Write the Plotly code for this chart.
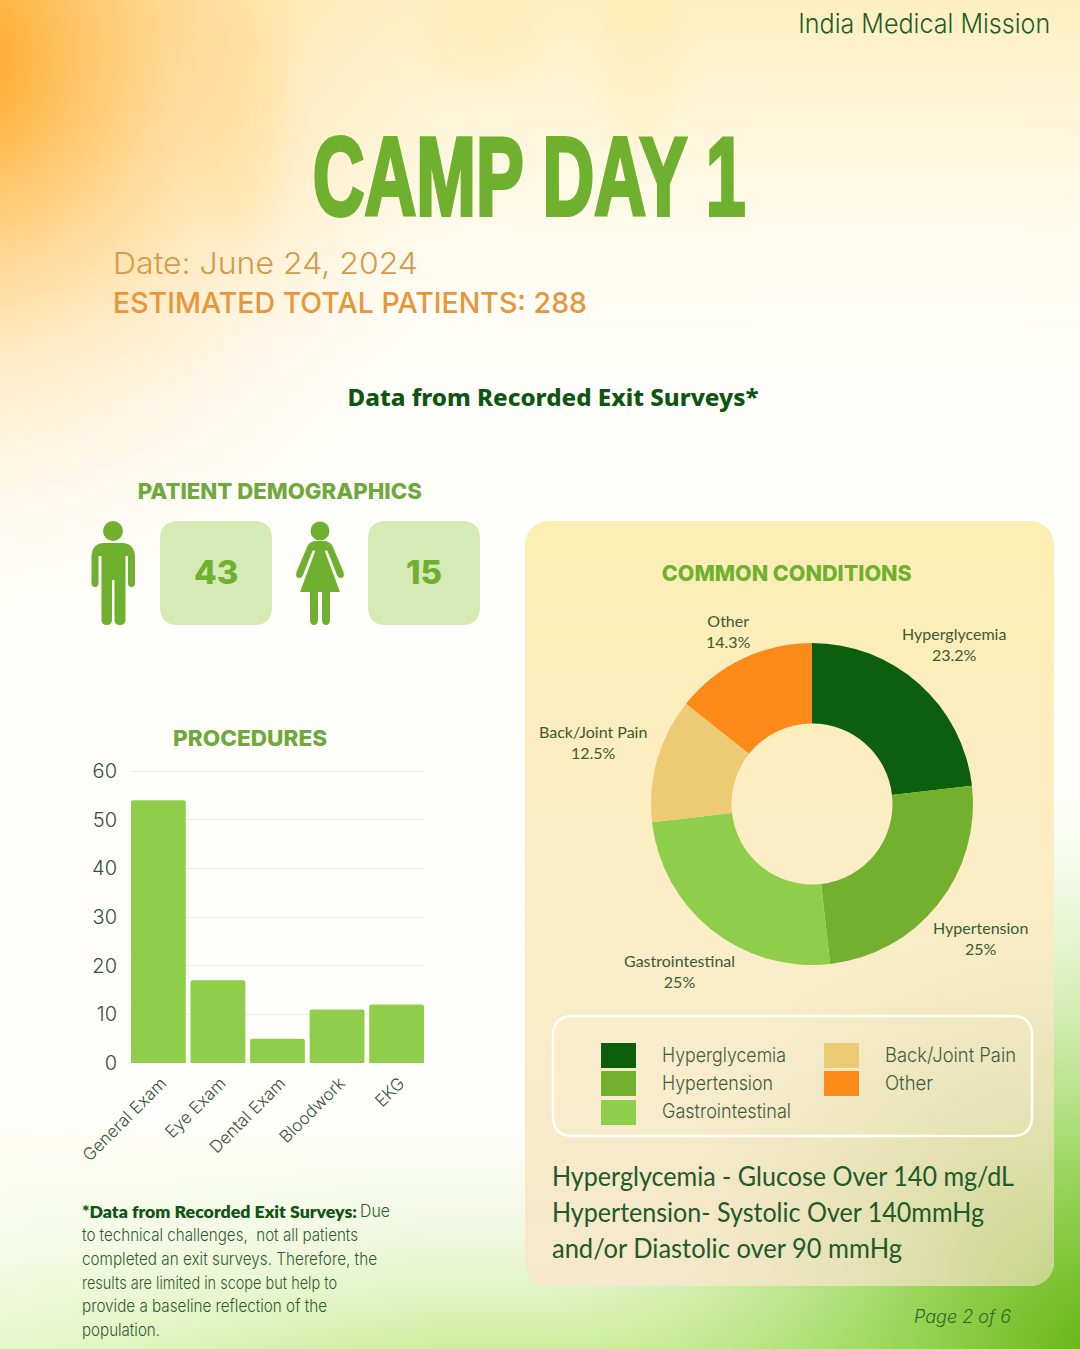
import base64
import json
import plotly.graph_objects as go

W = 1080
H = 1349

# data
procedures = ["General Exam", "Eye Exam", "Dental Exam", "Bloodwork", "EKG"]
procedure_counts = [54, 17, 5, 11, 12]
y_ticks = [0, 10, 20, 30, 40, 50, 60]

conditions = ["Hyperglycemia", "Hypertension", "Gastrointestinal", "Back/Joint Pain", "Other"]
condition_pct = [23.2, 25, 25, 12.5, 14.3]
condition_colors = ["#0c5f0c", "#72b02e", "#8ece4a", "#edca74", "#fb8a18"]

men = 43
women = 15

footnote_head = "*Data from Recorded Exit Surveys:"
footnote_head_tail = "Due"
footnote = [
    "to technical challenges,  not all patients",
    "completed an exit surveys. Therefore, the",
    "results are limited in scope but help to",
    "provide a baseline reflection of the",
    "population.",
]
definitions = [
    "Hyperglycemia - Glucose Over 140 mg/dL",
    "Hypertension- Systolic Over 140mmHg",
    "and/or Diastolic over 90 mmHg",
]

# text widths in the page, the canva fonts run tighter than what is installed
fit_widths = {
    "CAMP DAY 1": 433,
    "India Medical Mission": 252,
    "Date: June 24, 2024": 305,
    "ESTIMATED TOTAL PATIENTS: 288": 474,
    "Data from Recorded Exit Surveys*": 411,
    "PATIENT DEMOGRAPHICS": 284,
    "PROCEDURES": 154,
    "COMMON CONDITIONS": 250,
    "Hyperglycemia": 124,
    "Hypertension": 111,
    "Gastrointestinal": 129,
    "Back/Joint Pain": 131,
    "Other": 48,
    "*Data from Recorded Exit Surveys:": 275,
    "Due": 30,
    "to technical challenges,  not all patients": 276,
    "completed an exit surveys. Therefore, the": 295,
    "results are limited in scope but help to": 255,
    "provide a baseline reflection of the": 245,
    "population.": 78,
    "Hyperglycemia - Glucose Over 140 mg/dL": 462,
    "Hypertension- Systolic Over 140mmHg": 432,
    "and/or Diastolic over 90 mmHg": 350,
}


def fx(x):
    return x / W


def fy(y):
    return 1 - y / H


def to_paper(path):
    # path written in page pixels, converted to paper coords
    out = []
    is_x = True
    for tok in path.split():
        if tok.isalpha():
            out.append(tok)
            is_x = True
        else:
            val = float(tok)
            out.append(f"{fx(val) if is_x else fy(val):.5f}")
            is_x = not is_x
    return " ".join(out)


def round_rect(x0, y0, x1, y1, r):
    return (f"M {x0+r} {y0} L {x1-r} {y0} Q {x1} {y0} {x1} {y0+r} L {x1} {y1-r} Q {x1} {y1} {x1-r} {y1} "
            f"L {x0+r} {y1} Q {x0} {y1} {x0} {y1-r} L {x0} {y0+r} Q {x0} {y0} {x0+r} {y0} Z")


def text(x, y, s, size, color, family="Inter", anchor="center", weight=400, style="normal"):
    font = dict(size=size, color=color, family=family, weight=weight, style=style)
    return dict(x=fx(x), y=fy(y), xref="paper", yref="paper", text=s, showarrow=False,
                xanchor=anchor, yanchor="middle", align=anchor, font=font, borderpad=0, borderwidth=0)


# page background and the panel, drawn as one svg with gradients
svg = f"""<svg xmlns="http://www.w3.org/2000/svg" width="{W}" height="{H}" viewBox="0 0 {W} {H}">
<defs>
<linearGradient id="top" x1="0" y1="0" x2="0" y2="1">
<stop offset="0" stop-color="#ffedb8" stop-opacity="0.9"/><stop offset="0.16" stop-color="#fff6d8" stop-opacity="0.5"/>
<stop offset="0.32" stop-color="#ffffff" stop-opacity="0"/></linearGradient>
<radialGradient id="orange" gradientUnits="userSpaceOnUse" cx="-60" cy="60" r="560">
<stop offset="0" stop-color="#ff9a10"/><stop offset="0.22" stop-color="#ffb84a" stop-opacity="0.85"/>
<stop offset="0.6" stop-color="#ffdc9c" stop-opacity="0.45"/><stop offset="1" stop-color="#fff2dc" stop-opacity="0"/></radialGradient>
<linearGradient id="bottom" x1="0" y1="0" x2="0" y2="1">
<stop offset="0" stop-color="#e4f4cc" stop-opacity="0"/><stop offset="0.5" stop-color="#e8f5d2" stop-opacity="0.7"/>
<stop offset="1" stop-color="#cdee9e" stop-opacity="1"/></linearGradient>
<linearGradient id="bottomfade" x1="0" y1="0" x2="1" y2="0">
<stop offset="0" stop-color="#fdfdf0" stop-opacity="0.55"/><stop offset="0.4" stop-color="#fdfdf5" stop-opacity="0"/></linearGradient>
<radialGradient id="green" gradientUnits="userSpaceOnUse" cx="1100" cy="1349" r="560">
<stop offset="0" stop-color="#62b414"/><stop offset="0.3" stop-color="#85cc3c" stop-opacity="0.85"/>
<stop offset="1" stop-color="#c8ec9c" stop-opacity="0"/></radialGradient>
<linearGradient id="panel" x1="0" y1="0" x2="0" y2="1">
<stop offset="0" stop-color="#fdeeb4"/><stop offset="0.5" stop-color="#fbeec8"/><stop offset="1" stop-color="#f5e8cc"/></linearGradient>
<radialGradient id="panelgreen" gradientUnits="userSpaceOnUse" cx="1060" cy="1290" r="420">
<stop offset="0" stop-color="#c2d384" stop-opacity="0.95"/><stop offset="1" stop-color="#e8e4b8" stop-opacity="0"/></radialGradient>
<filter id="blur"><feGaussianBlur stdDeviation="14"/></filter>
</defs>
<rect width="{W}" height="{H}" fill="#fffefa"/>
<rect width="{W}" height="{H}" fill="url(#top)"/>
<rect width="{W}" height="{H}" fill="url(#orange)"/>
<rect y="1130" width="{W}" height="219" fill="url(#bottom)"/>
<rect y="1130" width="{W}" height="219" fill="url(#bottomfade)"/>
<rect width="{W}" height="{H}" fill="url(#green)"/>
<g filter="url(#blur)" opacity="0.18">
<ellipse cx="640" cy="60" rx="40" ry="90" fill="#ffe08a"/>
<ellipse cx="240" cy="120" rx="45" ry="120" fill="#ffcf70"/>
<ellipse cx="480" cy="40" rx="60" ry="45" fill="#ffdf90"/>
</g>
<rect x="525" y="521" width="529" height="765" rx="24" fill="url(#panel)"/>
<rect x="525" y="521" width="529" height="765" rx="24" fill="url(#panelgreen)"/>
</svg>"""
bg_uri = "data:image/svg+xml;base64," + base64.b64encode(svg.encode()).decode()

fig = go.Figure()

fig.add_trace(go.Bar(
    x=procedures, y=procedure_counts, marker=dict(color="#8ece4a", line=dict(width=0), cornerradius=2),
    xaxis="x", yaxis="y", hoverinfo="skip", showlegend=False,
))

fig.add_trace(go.Pie(
    labels=conditions, values=condition_pct, sort=False, direction="clockwise", rotation=0,
    hole=0.5, textinfo="none", hoverinfo="skip", showlegend=False,
    marker=dict(colors=condition_colors, line=dict(width=0)),
    domain=dict(x=[fx(651), fx(973)], y=[fy(965), fy(643)]),
))

GREEN = "#6fb02e"
shapes = []

# demographic cards
for x0 in (160, 368):
    shapes.append(dict(type="path", path=to_paper(round_rect(x0, 521, x0 + 112, 625, 18)),
                       xref="paper", yref="paper", fillcolor="#d6eab5", line=dict(width=0), layer="below"))

man = ("M 103 543 L 123 543 Q 135 544 135 558 L 135 583 Q 135 587 131.5 587 Q 128 587 128 583 L 128 556 "
       "L 125.5 556 L 125.5 620 Q 125.5 625 120 625 Q 114.5 625 114.5 620 L 114.5 580 L 112 580 L 112 620 "
       "Q 112 625 107 625 Q 101.5 625 101.5 620 L 101.5 556 L 98.5 556 L 98.5 583 Q 98.5 587 95 587 "
       "Q 91.5 587 91.5 583 L 91.5 558 Q 91.5 544 103 543 Z")
woman_dress = ("M 316 541 L 324 541 L 325.5 553 L 340 592 L 330 592 L 330 620 Q 330 625 326 625 "
               "Q 322 625 322 620 L 322 592 L 318 592 L 318 620 Q 318 625 314 625 Q 310 625 310 620 "
               "L 310 592 L 300 592 L 314.5 553 Z")
woman_arm_l = "M 317 541 Q 310 541 307.5 546 L 296.5 572 Q 295 578 299.5 578 Q 302 578 303 575 L 312.5 551 L 317 549 Z"
woman_arm_r = "M 323 541 Q 330 541 332.5 546 L 343.5 572 Q 345 578 340.5 578 Q 338 578 337 575 L 327.5 551 L 323 549 Z"
for p in (man, woman_dress, woman_arm_l, woman_arm_r):
    shapes.append(dict(type="path", path=to_paper(p), xref="paper", yref="paper",
                       fillcolor=GREEN, line=dict(width=0), layer="below"))
for cx, cy, r in ((113, 531, 10), (320, 531, 9.5)):
    shapes.append(dict(type="circle", xref="paper", yref="paper", x0=fx(cx - r), x1=fx(cx + r),
                       y0=fy(cy + r), y1=fy(cy - r), fillcolor=GREEN, line=dict(width=0), layer="below"))

# legend box and swatches
shapes.append(dict(type="path", path=to_paper(round_rect(553, 1016, 1032, 1136, 20)), xref="paper", yref="paper",
                   fillcolor="rgba(255,255,255,0.06)", line=dict(color="#fffdf6", width=2.5), layer="below"))
legend_x = [601, 601, 601, 824, 824]
legend_y = [1043, 1071, 1100, 1043, 1071]
label_x = [662, 662, 662, 885, 885]
label_y = [1055, 1083, 1111, 1055, 1083]
for sx, sy, col in zip(legend_x, legend_y, condition_colors):
    shapes.append(dict(type="rect", xref="paper", yref="paper", x0=fx(sx), x1=fx(sx + 35), y0=fy(sy + 25), y1=fy(sy),
                       fillcolor=col, line=dict(width=0), layer="below"))

ann = [
    text(1050, 23, "India Medical Mission", 27, "#1d5c24", anchor="right", weight=300),
    text(529, 176, "CAMP DAY 1", 112, GREEN, family="Liberation Sans", weight=700),
    text(113, 263, "Date: June 24, 2024", 30, "#d49a4c", anchor="left", weight=300),
    text(113, 303, "ESTIMATED TOTAL PATIENTS: 288", 29, "#e8963a", anchor="left", weight=500),
    text(553, 397, "Data from Recorded Exit Surveys*", 23, "#0f5512", family="Noto Sans", weight=800),
    text(280, 491, "PATIENT DEMOGRAPHICS", 22, "#6fa83c", weight=800),
    text(216, 572, str(men), 33, GREEN, weight=800),
    text(424, 572, str(women), 33, GREEN, weight=800),
    text(250, 738, "PROCEDURES", 22, "#6fa83c", weight=800),
    text(786, 573, "COMMON CONDITIONS", 22, GREEN, weight=800),
    text(962, 1316, "Page 2 of 6", 18, "#2d6a2d", family="Inter", style="italic", weight=300),
]

# donut labels
pie_label_x = [954, 980, 679, 593, 728]
pie_label_y = [644, 938, 971, 742, 631]
for x, y, name, pct in zip(pie_label_x, pie_label_y, conditions, condition_pct):
    ann.append(text(x, y, f"{name}<br>{pct:g}%", 16, "#3d5a30", family="Lato"))

for x, y, name in zip(label_x, label_y, conditions):
    ann.append(text(x, y, name, 20, "#3f5c3c", anchor="left", weight=300))

ann.append(text(82, 1211, footnote_head, 17.5, "#0f5512", family="Lato", anchor="left", weight=800))
ann.append(text(360, 1211, footnote_head_tail, 17, "#2f5a30", anchor="left", weight=300))
for i, line in enumerate(footnote):
    ann.append(text(82, 1235 + i * 23.8, line, 17, "#2f5a30", anchor="left", weight=300))

for i, line in enumerate(definitions):
    ann.append(text(552, 1176 + i * 36, line, 26, "#1f5a28", family="Lato", anchor="left"))

fig.update_layout(
    width=W, height=H, margin=dict(l=0, r=0, t=0, b=0, autoexpand=False), autosize=False,
    paper_bgcolor="#fffefa", plot_bgcolor="rgba(0,0,0,0)",
    bargap=0.08,
    xaxis=dict(domain=[fx(131), fx(424)], range=[-0.46, 4.46], tickangle=-45, showgrid=False, showline=False,
               ticks="", zeroline=False, automargin=False, ticklabelstandoff=6, ticklabelshift=3,
               tickfont=dict(size=17, color="#33553a", family="Inter", weight=300)),
    yaxis=dict(domain=[fy(1063), fy(768.6)], range=[0, 60.5], tickvals=y_ticks, showgrid=True, gridcolor="#ecece6",
               gridwidth=1, zeroline=False, showline=False, ticks="", ticklabelstandoff=13, automargin=False,
               tickfont=dict(size=20, color="#33503a", family="Inter", weight=300)),
    images=[dict(source=bg_uri, xref="paper", yref="paper", x=0, y=1, sizex=1, sizey=1,
                 xanchor="left", yanchor="top", sizing="stretch", layer="below")],
    shapes=shapes, annotations=ann,
)

# drop the page margin, squeeze annotation texts to the widths above, title gets a stroke to look heavier
post = """
document.body.style.margin = '0';
var fits = %s;
document.querySelectorAll('.annotation-text').forEach(function (t) {
  var w = fits[t.textContent.trim()];
  if (w) {
    t.setAttribute('textLength', w);
    t.setAttribute('lengthAdjust', 'spacingAndGlyphs');
  }
  if (t.textContent.trim() === 'CAMP DAY 1') {
    t.style.stroke = '%s';
    t.style.strokeWidth = '4px';
  }
});
""" % (json.dumps(fit_widths), GREEN)

fig.write_html("out.html", post_script=post, config=dict(displayModeBar=False))
